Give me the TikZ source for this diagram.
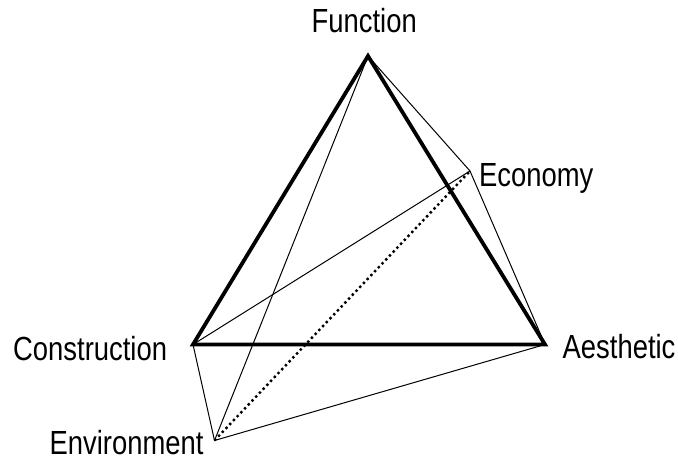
\documentclass[tikz,border=0pt]{standalone}
\usepackage{fontspec}
\setmainfont{Liberation Sans}
\newcommand{\tallText}[1]{\scalebox{1}[1.22]{#1}}
\begin{document}
\begin{tikzpicture}[x=1pt,y=-1pt,
  lbl/.style={inner sep=0pt,anchor=base west,font=\fontsize{27.4}{32}\selectfont},
  thick edge/.style={line width=3.8pt,line join=miter},
  thin edge/.style={line width=1pt},
  dot edge/.style={line width=2.4pt,dash pattern=on 2.4pt off 3pt}]
\useasboundingbox (0,0) rectangle (678,461);
\coordinate (F) at (368,56);
\coordinate (C) at (193,344.5);
\coordinate (A) at (545,344.5);
\coordinate (E) at (470,171);
\coordinate (N) at (214.5,440.5);
\node[lbl] (fl) at (311.5,32) {\tallText{Function}};
\node[lbl] (el) at (479,186) {\tallText{Economy}};
\node[lbl] (cl) at (13,360) {\tallText{Construction}};
\node[lbl] (al) at (562.5,358) {\tallText{Aesthetic}};
\node[lbl] (nl) at (49.5,454) {\tallText{Environment}};
\draw[thin edge] (F)--(E)--(A);
\draw[thin edge] (C)--(E);
\draw[thin edge] (F)--(N);
\draw[thin edge] (C)--(N)--(A);
\draw[dot edge] (N)--(E);
\draw[thick edge] (F)--(C)--(A)--cycle;
\end{tikzpicture}
\end{document}
